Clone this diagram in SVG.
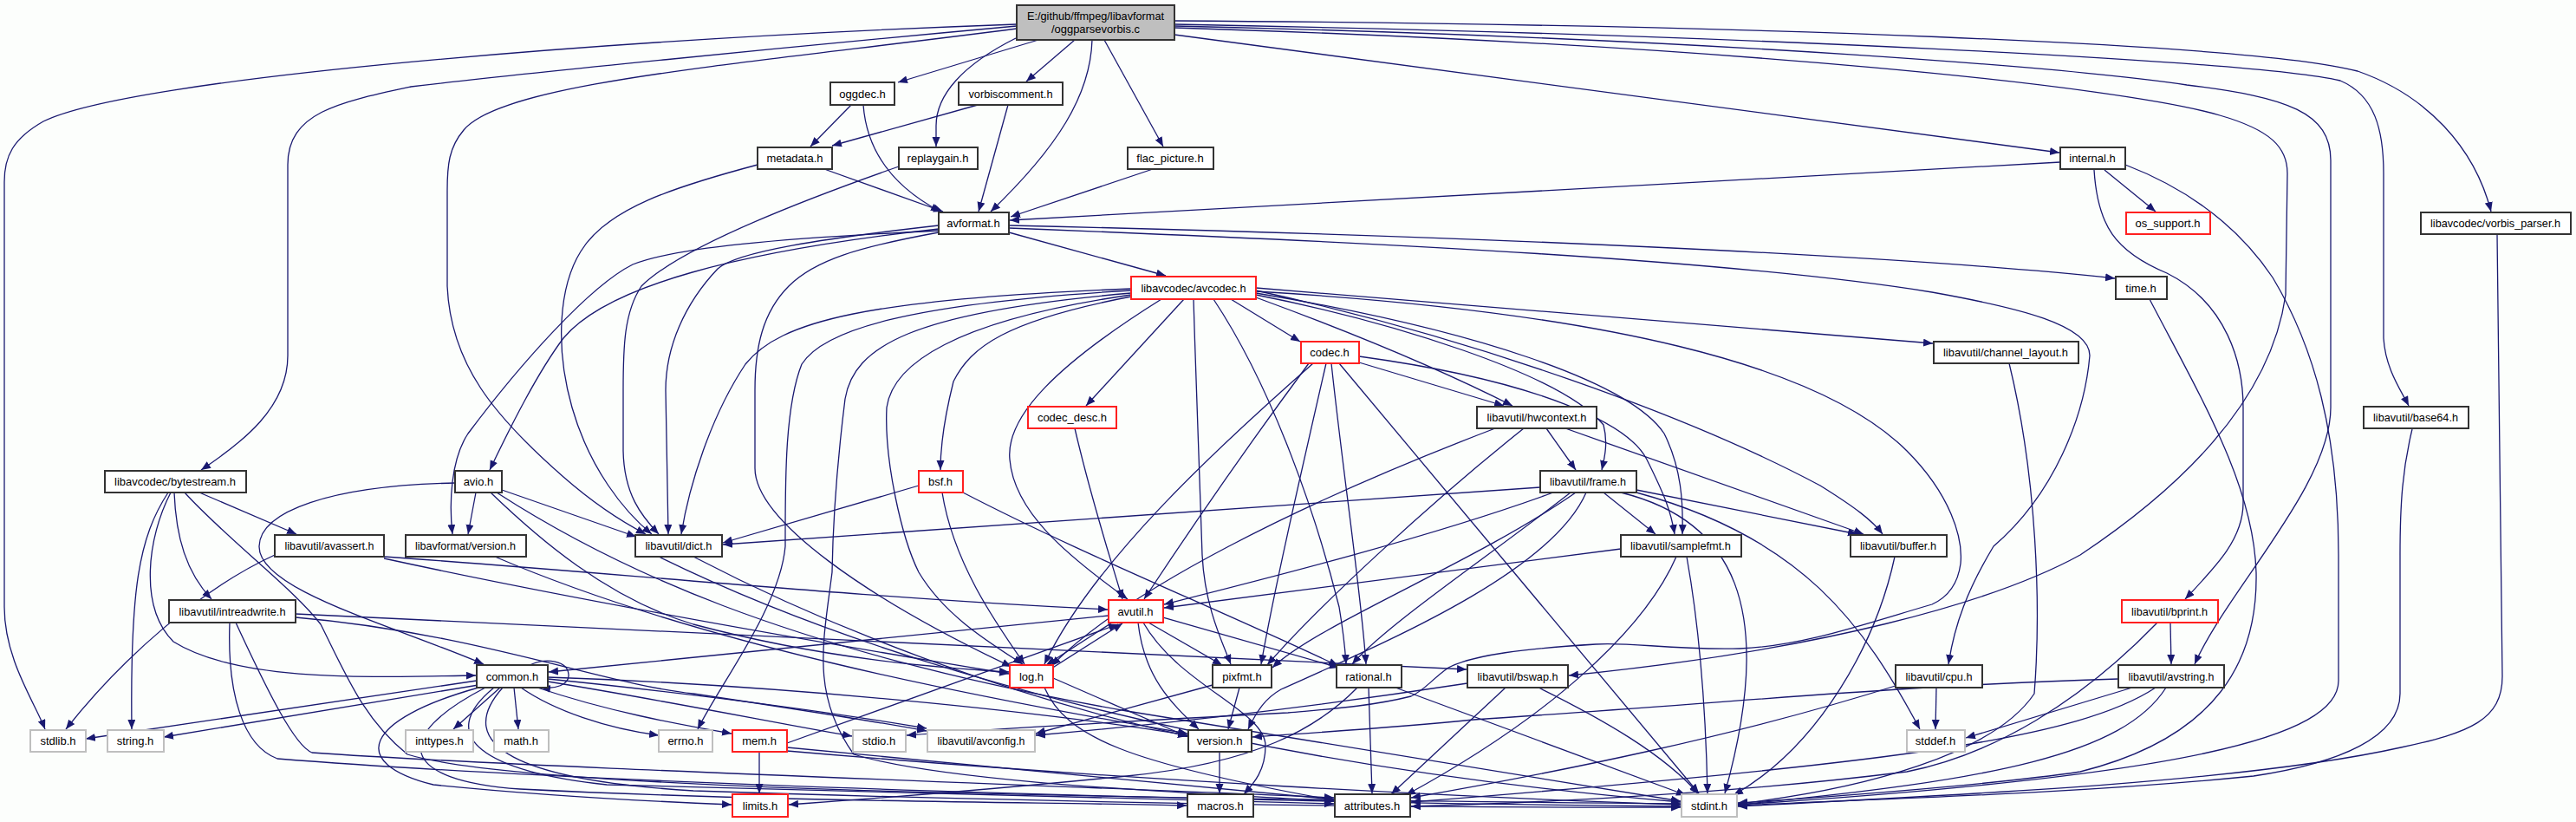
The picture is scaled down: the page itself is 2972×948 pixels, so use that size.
<svg xmlns="http://www.w3.org/2000/svg" width="2972" height="948" viewBox="0 0 2972 948">
<style>
.e{fill:none;stroke:#191970;stroke-width:1.3;marker-end:url(#a)}
.n rect{fill:#fff;stroke:#333;stroke-width:2}
.r rect{fill:#fff;stroke:#ff2020;stroke-width:2}
.g rect{fill:#fff;stroke:#bfbfbf;stroke-width:2}
text{font-family:"Liberation Sans",Arial,sans-serif;font-size:13px;fill:#000;text-anchor:middle}
</style>
<defs>
<marker id="a" markerWidth="12" markerHeight="10" refX="11" refY="4.5" orient="auto" markerUnits="userSpaceOnUse"><path d="M0,0 L11,4.5 L0,9 z" fill="#191970"/></marker>
</defs>
<rect width="2972" height="948" fill="#fcfefc"/>
<g id="edges">
<path class="e" d="M1173,28 C700,45 150,90 50,140 C15,160 5,180 5,210 L5,700 C5,760 40,810 52,841"/>
<path class="e" d="M1173,30 C900,55 600,85 474,100 C390,118 332,130 332,190 L332,410 C332,470 280,510 232,542"/>
<path class="e" d="M1173,33 C850,75 580,95 535,150 C518,170 516,190 516,220 L516,330 C520,420 570,480 650,550 C690,585 720,603 745,616"/>
<path class="e" d="M1198,46 L1036,95"/>
<path class="e" d="M1172,44 C1110,75 1080,110 1080,145 L1080,169"/>
<path class="e" d="M1240,46 L1184,94"/>
<path class="e" d="M1260,46 C1258,110 1220,170 1143,244"/>
<path class="e" d="M1274,46 L1342,169"/>
<path class="e" d="M1355,40 L2376,176"/>
<path class="e" d="M1355,24 C2000,28 2600,50 2720,82 C2800,110 2855,170 2874,244"/>
<path class="e" d="M1355,28 C2000,40 2600,70 2700,93 C2740,110 2750,150 2750,200 L2750,390 C2752,425 2770,450 2779,468"/>
<path class="e" d="M1355,30 C2000,45 2400,80 2523,98 C2640,112 2689,130 2689,185 L2689,470 C2689,560 2570,680 2532,766"/>
<path class="e" d="M1355,32 C2000,52 2450,100 2561,133 C2620,150 2639,170 2639,200 L2637,340 C2620,460 2520,560 2400,640 C2300,695 2100,750 1810,779"/>
<path class="e" d="M2377,187 L1165,254"/>
<path class="e" d="M2428,196 L2487,244"/>
<path class="e" d="M2416,196 C2420,260 2440,290 2500,315 C2570,350 2588,420 2588,470 L2588,580 C2588,620 2560,650 2521,691"/>
<path class="e" d="M2452,190 C2530,220 2585,265 2622,320 C2670,400 2698,500 2698,640 L2698,785 C2698,850 2520,895 2005,928"/>
<path class="e" d="M2881,270 L2887,780 C2887,830 2850,845 2770,862 C2600,900 2300,915 2005,930"/>
<path class="e" d="M2783,495 C2772,540 2769,580 2769,640 L2769,800 C2769,850 2700,880 2600,895 C2400,915 2200,920 2005,929"/>
<path class="e" d="M2480,345 C2540,460 2600,560 2603,660 C2605,760 2560,850 2400,890 C2300,905 2100,920 2005,926"/>
<path class="e" d="M982,121 L935,169"/>
<path class="e" d="M996,121 C1000,175 1030,215 1085,244"/>
<path class="e" d="M1128,121 L960,168"/>
<path class="e" d="M1163,121 L1129,244"/>
<path class="e" d="M951,195 L1088,244"/>
<path class="e" d="M1330,195 L1166,250"/>
<path class="e" d="M874,190 C780,215 700,240 670,290 C645,330 640,400 660,470 C680,540 720,590 752,616"/>
<path class="e" d="M1037,192 C900,240 780,290 740,330 C720,360 719,400 719,450 L719,520 C720,570 740,595 760,616"/>
<path class="e" d="M1083,260 C950,275 850,290 828,310 C790,350 768,400 768,450 L771,616"/>
<path class="e" d="M1083,264 C850,290 700,330 650,390 C620,430 590,490 565,542"/>
<path class="e" d="M1083,266 C900,275 780,285 730,305 C680,330 600,420 540,500 C520,530 518,580 522,616"/>
<path class="e" d="M1083,268 C990,285 940,300 910,330 C880,360 871,400 871,450 L871,540 C871,600 1000,690 1167,769"/>
<path class="e" d="M1164,268 L1345,318"/>
<path class="e" d="M1164,260 C1700,272 2200,295 2440,321"/>
<path class="e" d="M1164,263 C1600,280 2000,300 2229,337 C2330,355 2411,375 2411,410 C2405,480 2370,570 2300,630 C2270,680 2255,720 2248,766"/>
<path class="e" d="M1449,336 C1850,360 2100,420 2200,520 C2250,570 2265,620 2262,650 C2258,680 2240,692 2229,697 C2150,720 2080,745 2007,748 C1930,750 1880,740 1841,743 C1760,748 1700,755 1671,770 C1650,785 1645,795 1628,803 C1580,815 1530,818 1486,822 C1300,832 1150,840 1046,848"/>
<path class="e" d="M1420,345 L1500,394"/>
<path class="e" d="M1366,345 L1253,468"/>
<path class="e" d="M1305,342 C1160,370 1120,400 1100,440 C1090,480 1085,510 1085,542"/>
<path class="e" d="M1449,343 C1550,380 1650,420 1745,468"/>
<path class="e" d="M1449,340 C1600,370 1800,430 1850,490 C1855,510 1852,525 1848,542"/>
<path class="e" d="M1449,338 C1700,380 1880,440 1920,500 C1940,540 1942,580 1941,616"/>
<path class="e" d="M1449,335 C1700,390 1950,480 2100,560 C2140,585 2160,600 2172,616"/>
<path class="e" d="M1449,332 L2230,396"/>
<path class="e" d="M1305,335 C1050,350 950,380 925,420 C905,470 906,560 906,630 C900,700 830,790 805,841"/>
<path class="e" d="M1340,345 C1220,420 1160,480 1165,530 C1170,590 1230,640 1301,691"/>
<path class="e" d="M1305,340 C1100,370 1030,420 1023,470 C1020,530 1040,620 1060,660 C1090,710 1140,740 1180,766"/>
<path class="e" d="M1377,345 C1380,450 1385,560 1387,640 C1390,700 1410,740 1420,766"/>
<path class="e" d="M1400,345 C1470,450 1520,600 1545,700 C1550,730 1552,750 1553,766"/>
<path class="e" d="M1305,338 C1050,360 985,400 975,460 C965,540 961,600 960,660 C950,740 935,800 985,870 C1100,905 1400,915 1539,924"/>
<path class="e" d="M1305,333 C1000,345 900,370 860,420 C820,480 795,560 786,616"/>
<path class="e" d="M1510,419 C1450,500 1380,600 1320,691"/>
<path class="e" d="M1515,419 C1400,520 1260,650 1205,766"/>
<path class="e" d="M1530,419 C1500,550 1470,680 1455,766"/>
<path class="e" d="M1536,419 C1550,550 1570,680 1576,766"/>
<path class="e" d="M1545,419 L1960,915"/>
<path class="e" d="M1568,411 C1780,440 1880,490 1900,530 C1920,570 1928,590 1932,616"/>
<path class="e" d="M1568,418 L1735,468"/>
<path class="e" d="M1240,494 C1260,580 1280,640 1295,691"/>
<path class="e" d="M1060,560 L834,626"/>
<path class="e" d="M1087,568 C1100,650 1150,720 1182,766"/>
<path class="e" d="M1111,568 C1250,640 1400,700 1544,768"/>
<path class="e" d="M1725,494 C1500,580 1300,680 1213,768"/>
<path class="e" d="M1758,494 C1650,580 1520,700 1462,767"/>
<path class="e" d="M1784,494 L1818,542"/>
<path class="e" d="M1806,494 L2150,616"/>
<path class="e" d="M1777,562 L834,628"/>
<path class="e" d="M1792,568 C1650,620 1450,670 1343,697"/>
<path class="e" d="M1850,568 L1910,616"/>
<path class="e" d="M1888,565 L2143,616"/>
<path class="e" d="M1888,568 C2080,620 2150,720 2215,841"/>
<path class="e" d="M1870,568 C2000,600 2050,700 1990,915"/>
<path class="e" d="M1812,568 C1720,640 1600,720 1560,766"/>
<path class="e" d="M1818,568 C1700,650 1520,720 1468,770"/>
<path class="e" d="M1830,568 C1790,660 1600,740 1478,795 C1460,805 1450,820 1440,841"/>
<path class="e" d="M1870,633 L1343,701"/>
<path class="e" d="M1934,642 C1900,720 1800,820 1622,917"/>
<path class="e" d="M1946,642 C1960,720 1968,820 1970,915"/>
<path class="e" d="M2186,642 C2165,740 2100,860 2000,917"/>
<path class="e" d="M800,642 C950,720 1150,800 1370,849"/>
<path class="e" d="M760,642 C1000,760 1400,880 1939,925"/>
<path class="e" d="M525,557 C380,560 300,590 299,630 C298,680 450,720 558,766"/>
<path class="e" d="M549,568 L540,616"/>
<path class="e" d="M579,565 L734,619"/>
<path class="e" d="M566,568 C620,620 700,690 800,720 C950,760 1080,770 1164,775"/>
<path class="e" d="M573,568 C700,650 900,750 1300,820 C1600,870 1800,900 1939,924"/>
<path class="e" d="M571,642 C800,740 1100,800 1370,846"/>
<path class="e" d="M194,568 C160,620 150,680 152,841"/>
<path class="e" d="M197,568 C170,620 160,700 200,740 C280,790 450,780 549,779"/>
<path class="e" d="M201,568 C203,620 215,660 244,691"/>
<path class="e" d="M213,568 C260,620 340,680 370,720 C400,780 420,830 470,870 C600,910 1200,920 1939,927"/>
<path class="e" d="M230,568 L342,616"/>
<path class="e" d="M317,640 C230,680 140,760 76,841"/>
<path class="e" d="M443,642 C700,660 1000,690 1278,703"/>
<path class="e" d="M443,644 C700,700 1000,750 1164,777"/>
<path class="e" d="M341,708 L1692,772"/>
<path class="e" d="M341,712 C550,730 700,790 800,800 C900,815 1000,830 1069,843"/>
<path class="e" d="M272,718 C310,800 340,860 360,868 C600,885 1200,905 1539,920"/>
<path class="e" d="M265,718 C262,800 280,860 320,875 C700,905 1400,925 1939,930"/>
<path class="e" d="M550,785 L99,852"/>
<path class="e" d="M552,790 L189,850"/>
<path class="e" d="M577,793 L523,841"/>
<path class="e" d="M593,793 L598,841"/>
<path class="e" d="M601,793 C640,820 700,840 760,848"/>
<path class="e" d="M620,793 C700,820 780,835 844,846"/>
<path class="e" d="M632,786 C780,810 900,835 983,849"/>
<path class="e" d="M632,783 C800,800 950,820 1069,840"/>
<path class="e" d="M632,781 C900,790 1200,820 1370,848"/>
<path class="e" d="M552,793 C420,830 400,880 500,905 C650,920 770,925 844,928"/>
<path class="e" d="M560,793 C450,850 460,900 600,910 C900,925 1200,925 1369,929"/>
<path class="e" d="M570,793 C500,850 560,890 700,905 C1000,915 1300,920 1539,927"/>
<path class="e" d="M580,793 C520,860 600,900 800,912 C1200,925 1600,932 1939,931"/>
<path class="e" d="M611,767 C630,758 655,762 656,778 C657,790 640,795 624,793"/>
<path class="e" d="M1279,710 C1000,740 800,760 633,775"/>
<path class="e" d="M1283,718 L1207,767"/>
<path class="e" d="M1213,771 L1295,719"/>
<path class="e" d="M1325,718 L1410,767"/>
<path class="e" d="M1342,712 L1545,770"/>
<path class="e" d="M1313,718 C1320,780 1350,810 1383,841"/>
<path class="e" d="M1319,718 C1360,790 1460,820 1460,860 C1460,890 1445,905 1435,916"/>
<path class="e" d="M1215,782 L1371,850"/>
<path class="e" d="M1205,793 C1230,850 1300,880 1539,923"/>
<path class="e" d="M1399,790 L1195,846"/>
<path class="e" d="M1430,793 L1417,841"/>
<path class="e" d="M1579,793 L1583,915"/>
<path class="e" d="M1610,793 L1945,917"/>
<path class="e" d="M1566,793 C1520,840 1450,880 1300,895 C1100,915 950,925 910,928"/>
<path class="e" d="M1693,788 C1550,810 1400,830 1195,848"/>
<path class="e" d="M1737,793 L1605,916"/>
<path class="e" d="M1775,793 C1850,830 1920,870 1960,916"/>
<path class="e" d="M876,868 L876,915"/>
<path class="e" d="M908,857 L1290,720"/>
<path class="e" d="M908,862 L1539,922"/>
<path class="e" d="M908,866 C1300,900 1700,920 1939,928"/>
<path class="e" d="M1407,868 L1407,915"/>
<path class="e" d="M2234,793 L2233,841"/>
<path class="e" d="M2460,793 L2268,851"/>
<path class="e" d="M2190,790 C2000,850 1800,890 1628,920"/>
<path class="e" d="M2444,783 C2200,790 2000,810 1700,830 C1600,840 1500,846 1445,850"/>
<path class="e" d="M2487,793 C2400,850 2200,880 1628,925"/>
<path class="e" d="M2499,793 C2450,870 2300,900 2005,928"/>
<path class="e" d="M2504,718 L2505,766"/>
<path class="e" d="M2489,718 C2400,810 2300,870 2200,890 C2000,915 1800,925 1628,930"/>
<path class="e" d="M2318,419 C2350,550 2355,700 2347,800 C2300,870 2150,910 2005,927"/>
</g>
<g id="n_root"><rect x="1173" y="6" width="182" height="40" style="fill:#bfbfbf;stroke:#333;stroke-width:2"/><text x="1264" y="23" textLength="158" lengthAdjust="spacingAndGlyphs">E:/github/ffmpeg/libavformat</text><text x="1264" y="38" textLength="102" lengthAdjust="spacingAndGlyphs">/oggparsevorbis.c</text></g>
<g id="n_oggdec" class="n"><rect x="958" y="95" width="74" height="26"/><text x="995" y="113">oggdec.h</text></g>
<g id="n_vorbiscomment" class="n"><rect x="1106" y="95" width="120" height="26"/><text x="1166" y="113" textLength="97" lengthAdjust="spacingAndGlyphs">vorbiscomment.h</text></g>
<g id="n_metadata" class="n"><rect x="874" y="170" width="86" height="25"/><text x="917" y="187">metadata.h</text></g>
<g id="n_replaygain" class="n"><rect x="1037" y="170" width="91" height="25"/><text x="1082" y="187">replaygain.h</text></g>
<g id="n_flac_picture" class="n"><rect x="1301" y="170" width="99" height="25"/><text x="1350" y="187">flac_picture.h</text></g>
<g id="n_internal" class="n"><rect x="2377" y="170" width="75" height="25"/><text x="2414" y="187">internal.h</text></g>
<g id="n_avformat" class="n"><rect x="1083" y="245" width="81" height="25"/><text x="1123" y="262">avformat.h</text></g>
<g id="n_os_support" class="r"><rect x="2453" y="245" width="97" height="25"/><text x="2501" y="262">os_support.h</text></g>
<g id="n_vorbis_parser" class="n"><rect x="2793" y="245" width="173" height="25"/><text x="2879" y="262" textLength="150" lengthAdjust="spacingAndGlyphs">libavcodec/vorbis_parser.h</text></g>
<g id="n_avcodec" class="r"><rect x="1305" y="319" width="144" height="26"/><text x="1377" y="337" textLength="121" lengthAdjust="spacingAndGlyphs">libavcodec/avcodec.h</text></g>
<g id="n_time" class="n"><rect x="2441" y="319" width="59" height="26"/><text x="2470" y="337">time.h</text></g>
<g id="n_codec" class="r"><rect x="1501" y="394" width="67" height="25"/><text x="1534" y="411">codec.h</text></g>
<g id="n_channel_layout" class="n"><rect x="2231" y="394" width="167" height="25"/><text x="2314" y="411" textLength="144" lengthAdjust="spacingAndGlyphs">libavutil/channel_layout.h</text></g>
<g id="n_codec_desc" class="r"><rect x="1186" y="469" width="102" height="25"/><text x="1237" y="486">codec_desc.h</text></g>
<g id="n_hwcontext" class="n"><rect x="1704" y="469" width="138" height="25"/><text x="1773" y="486" textLength="115" lengthAdjust="spacingAndGlyphs">libavutil/hwcontext.h</text></g>
<g id="n_base64" class="n"><rect x="2727" y="469" width="121" height="25"/><text x="2787" y="486" textLength="98" lengthAdjust="spacingAndGlyphs">libavutil/base64.h</text></g>
<g id="n_bytestream" class="n"><rect x="121" y="543" width="163" height="25"/><text x="202" y="560" textLength="140" lengthAdjust="spacingAndGlyphs">libavcodec/bytestream.h</text></g>
<g id="n_avio" class="n"><rect x="525" y="543" width="54" height="25"/><text x="552" y="560">avio.h</text></g>
<g id="n_bsf" class="r"><rect x="1060" y="543" width="51" height="25"/><text x="1085" y="560">bsf.h</text></g>
<g id="n_frame" class="n"><rect x="1777" y="543" width="111" height="25"/><text x="1832" y="560" textLength="88" lengthAdjust="spacingAndGlyphs">libavutil/frame.h</text></g>
<g id="n_avassert" class="n"><rect x="317" y="617" width="126" height="25"/><text x="380" y="634" textLength="103" lengthAdjust="spacingAndGlyphs">libavutil/avassert.h</text></g>
<g id="n_lavf_version" class="n"><rect x="468" y="617" width="139" height="25"/><text x="537" y="634" textLength="116" lengthAdjust="spacingAndGlyphs">libavformat/version.h</text></g>
<g id="n_dict" class="n"><rect x="733" y="617" width="100" height="25"/><text x="783" y="634" textLength="77" lengthAdjust="spacingAndGlyphs">libavutil/dict.h</text></g>
<g id="n_samplefmt" class="n"><rect x="1870" y="617" width="139" height="25"/><text x="1939" y="634" textLength="116" lengthAdjust="spacingAndGlyphs">libavutil/samplefmt.h</text></g>
<g id="n_buffer" class="n"><rect x="2135" y="617" width="111" height="25"/><text x="2190" y="634" textLength="88" lengthAdjust="spacingAndGlyphs">libavutil/buffer.h</text></g>
<g id="n_intreadwrite" class="n"><rect x="195" y="692" width="146" height="26"/><text x="268" y="710" textLength="123" lengthAdjust="spacingAndGlyphs">libavutil/intreadwrite.h</text></g>
<g id="n_avutil" class="r"><rect x="1279" y="692" width="63" height="26"/><text x="1310" y="710">avutil.h</text></g>
<g id="n_bprint" class="r"><rect x="2448" y="692" width="111" height="26"/><text x="2503" y="710" textLength="88" lengthAdjust="spacingAndGlyphs">libavutil/bprint.h</text></g>
<g id="n_common" class="n"><rect x="550" y="767" width="82" height="26"/><text x="591" y="785">common.h</text></g>
<g id="n_log" class="r"><rect x="1165" y="767" width="50" height="26"/><text x="1190" y="785">log.h</text></g>
<g id="n_pixfmt" class="n"><rect x="1399" y="767" width="68" height="26"/><text x="1433" y="785">pixfmt.h</text></g>
<g id="n_rational" class="n"><rect x="1542" y="767" width="75" height="26"/><text x="1579" y="785">rational.h</text></g>
<g id="n_bswap" class="n"><rect x="1693" y="767" width="116" height="26"/><text x="1751" y="785" textLength="93" lengthAdjust="spacingAndGlyphs">libavutil/bswap.h</text></g>
<g id="n_cpu" class="n"><rect x="2187" y="767" width="100" height="26"/><text x="2237" y="785" textLength="77" lengthAdjust="spacingAndGlyphs">libavutil/cpu.h</text></g>
<g id="n_avstring" class="n"><rect x="2444" y="767" width="122" height="26"/><text x="2505" y="785" textLength="99" lengthAdjust="spacingAndGlyphs">libavutil/avstring.h</text></g>
<g id="n_stdlib" class="g"><rect x="35" y="842" width="64" height="25"/><text x="67" y="859">stdlib.h</text></g>
<g id="n_string" class="g"><rect x="124" y="842" width="65" height="25"/><text x="156" y="859">string.h</text></g>
<g id="n_inttypes" class="g"><rect x="468" y="842" width="78" height="25"/><text x="507" y="859">inttypes.h</text></g>
<g id="n_math" class="g"><rect x="570" y="842" width="63" height="25"/><text x="601" y="859">math.h</text></g>
<g id="n_errno" class="g"><rect x="760" y="842" width="62" height="25"/><text x="791" y="859">errno.h</text></g>
<g id="n_mem" class="r"><rect x="845" y="842" width="63" height="25"/><text x="876" y="859">mem.h</text></g>
<g id="n_stdio" class="g"><rect x="984" y="842" width="61" height="25"/><text x="1014" y="859">stdio.h</text></g>
<g id="n_avconfig" class="g"><rect x="1070" y="842" width="124" height="25"/><text x="1132" y="859" textLength="101" lengthAdjust="spacingAndGlyphs">libavutil/avconfig.h</text></g>
<g id="n_version" class="n"><rect x="1371" y="842" width="73" height="25"/><text x="1407" y="859">version.h</text></g>
<g id="n_stddef" class="g"><rect x="2200" y="842" width="67" height="25"/><text x="2233" y="859">stddef.h</text></g>
<g id="n_limits" class="r"><rect x="845" y="916" width="64" height="26"/><text x="877" y="934">limits.h</text></g>
<g id="n_macros" class="n"><rect x="1370" y="916" width="76" height="26"/><text x="1408" y="934">macros.h</text></g>
<g id="n_attributes" class="n"><rect x="1540" y="916" width="87" height="26"/><text x="1583" y="934">attributes.h</text></g>
<g id="n_stdint" class="g"><rect x="1940" y="916" width="64" height="26"/><text x="1972" y="934">stdint.h</text></g>
</svg>
